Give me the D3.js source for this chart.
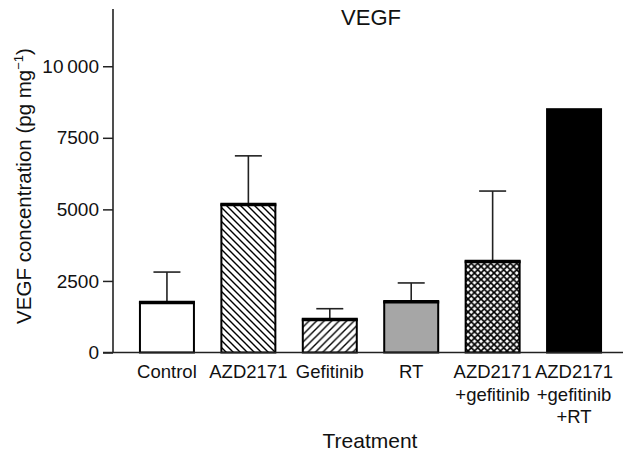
<!DOCTYPE html>
<html>
<head>
<meta charset="utf-8">
<script src="https://cdn.jsdelivr.net/npm/d3@7"></script>
<style>
  body { margin: 0; background: #fff; }
  text { font-family: "Liberation Sans", Arial, Helvetica, sans-serif; fill: #111; }
</style>
</head>
<body>
<svg id="chart"></svg>
<script>
const width = 623;
const height = 455;

const treatments = ["Control", "AZD2171", "Gefitinib", "RT", "AZD2171\n+gefitinib", "AZD2171\n+gefitinib\n+RT"];
const meanValues = [1750, 5170, 1150, 1770, 3180, 8500];
const errorTops = [2810, 6870, 1530, 2430, 5640, 8500];
const yTicks = [0, 2500, 5000, 7500, 10000];
const fills = ["#ffffff", "url(#backslash)", "url(#slash)", "#a6a6a6", "url(#cross)", "#000000"];

const svg = d3.select("#chart")
    .attr("width", width)
    .attr("height", height);

// hatch patterns
const defs = svg.append("defs");

const back = defs.append("pattern")
    .attr("id", "backslash")
    .attr("patternUnits", "userSpaceOnUse")
    .attr("width", 7).attr("height", 7);
back.append("rect").attr("width", 7).attr("height", 7).attr("fill", "#fff");
back.append("path")
    .attr("d", "M0,0L7,7M-1,6L1,8M6,-1L8,1")
    .attr("stroke", "#000").attr("stroke-width", 1.4);

const slash = defs.append("pattern")
    .attr("id", "slash")
    .attr("patternUnits", "userSpaceOnUse")
    .attr("width", 7.5).attr("height", 7.5);
slash.append("rect").attr("width", 7.5).attr("height", 7.5).attr("fill", "#fff");
slash.append("path")
    .attr("d", "M0,7.5L7.5,0M-1,1L1,-1M6.5,8.5L8.5,6.5")
    .attr("stroke", "#000").attr("stroke-width", 1.4);

const cross = defs.append("pattern")
    .attr("id", "cross")
    .attr("patternUnits", "userSpaceOnUse")
    .attr("width", 6.5).attr("height", 6.5);
cross.append("rect").attr("width", 6.5).attr("height", 6.5).attr("fill", "#fff");
cross.append("path")
    .attr("d", "M0,0L6.5,6.5M0,6.5L6.5,0M-1,5.5L1,7.5M5.5,-1L7.5,1M-1,1L1,-1M5.5,7.5L7.5,5.5")
    .attr("stroke", "#000").attr("stroke-width", 1.7);

// scales
const x = d3.scaleBand()
    .domain(treatments)
    .range([113, 628])
    .paddingInner(0.337)
    .paddingOuter(0.331);

const y = d3.scaleLinear()
    .domain([0, 12000])
    .range([352.5, 9]);

// bars
const bars = svg.append("g");
treatments.forEach((t, i) => {
    const x0 = x(t);
    const bw = x.bandwidth();
    const cx = x0 + bw / 2;
    // error bar
    if (errorTops[i] > meanValues[i]) {
        bars.append("line")
            .attr("x1", cx).attr("x2", cx)
            .attr("y1", y(meanValues[i])).attr("y2", y(errorTops[i]))
            .attr("stroke", "#222").attr("stroke-width", 1.6);
        bars.append("line")
            .attr("x1", cx - 13.5).attr("x2", cx + 13.5)
            .attr("y1", y(errorTops[i])).attr("y2", y(errorTops[i]))
            .attr("stroke", "#222").attr("stroke-width", 1.6);
    }
    bars.append("rect")
        .attr("x", x0)
        .attr("y", y(meanValues[i]))
        .attr("width", bw)
        .attr("height", y(0) - y(meanValues[i]))
        .attr("fill", fills[i])
        .attr("stroke", "#000")
        .attr("stroke-width", 2);
    if (fills[i] !== "#000000") {
        bars.append("line")
            .attr("x1", x0 - 1).attr("x2", x0 + bw + 1)
            .attr("y1", y(meanValues[i])).attr("y2", y(meanValues[i]))
            .attr("stroke", "#000").attr("stroke-width", 3.5);
    }
});

// y axis
const yAxis = d3.axisLeft(y)
    .tickValues(yTicks)
    .tickSize(10)
    .tickPadding(4)
    .tickFormat(d => d === 10000 ? "10\u2009000" : d3.format("d")(d));

const yG = svg.append("g")
    .attr("transform", "translate(113,0)")
    .call(yAxis);
yG.select(".domain").remove();
yG.selectAll(".tick line").attr("stroke", "#222").attr("stroke-width", 1.5);
yG.selectAll(".tick text")
    .style("font-size", "19px")
    .style("font-family", "'Liberation Sans', Arial, sans-serif")
    .attr("fill", "#111");

svg.append("line")
    .attr("x1", 113).attr("x2", 113)
    .attr("y1", y(12000)).attr("y2", y(0))
    .attr("stroke", "#222").attr("stroke-width", 1.6);

// x baseline
svg.append("line")
    .attr("x1", 103).attr("x2", width)
    .attr("y1", y(0)).attr("y2", y(0))
    .attr("stroke", "#222").attr("stroke-width", 1.6);

// x labels
const xl = svg.append("g");
treatments.forEach(t => {
    const lines = t.split("\n");
    const tx = xl.append("text")
        .attr("x", x(t) + x.bandwidth() / 2)
        .attr("y", 378)
        .attr("text-anchor", "middle")
        .style("font-size", "18.5px");
    lines.forEach((l, j) => {
        tx.append("tspan")
            .attr("x", x(t) + x.bandwidth() / 2)
            .attr("dy", j === 0 ? 0 : 22.5)
            .text(l);
    });
});

// titles
svg.append("text")
    .attr("x", 371)
    .attr("y", 25)
    .attr("text-anchor", "middle")
    .style("font-size", "22px")
    .text("VEGF");

svg.append("text")
    .attr("x", 370)
    .attr("y", 448)
    .attr("text-anchor", "middle")
    .style("font-size", "21px")
    .text("Treatment");

const yl = svg.append("text")
    .attr("transform", "translate(31,186) rotate(-90)")
    .attr("text-anchor", "middle")
    .style("font-size", "20.5px");
yl.append("tspan").text("VEGF concentration (pg mg");
yl.append("tspan").attr("dy", -8).style("font-size", "13px").text("\u22121");
yl.append("tspan").attr("dy", 8).text(")");
</script>
</body>
</html>
